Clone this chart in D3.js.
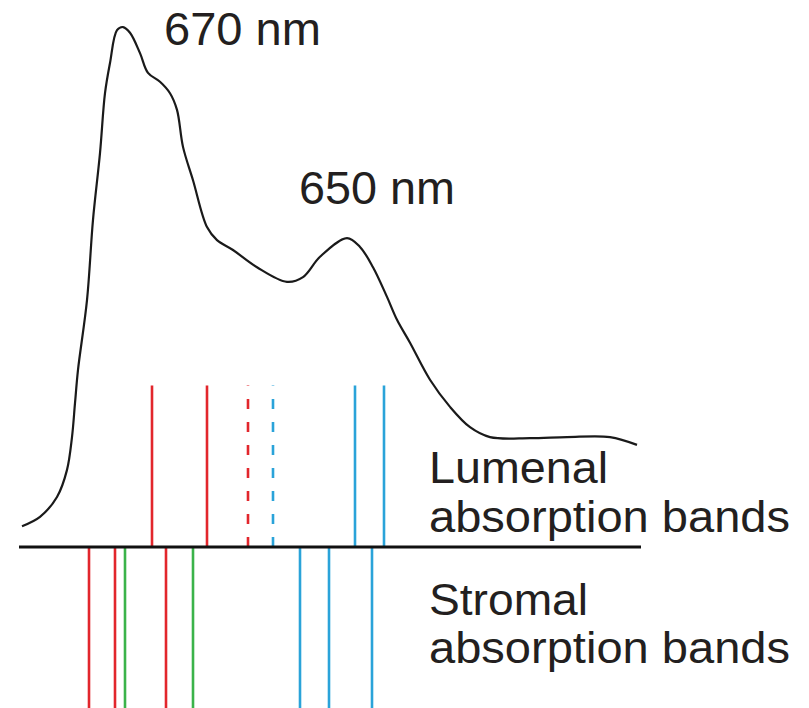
<!DOCTYPE html>
<meta charset="utf-8">
<style>
  body { margin: 0; background: #fff; }
  .curve { fill: none; stroke: #1a1a1a; stroke-width: 2.2px; }
  .label { font-family: "Liberation Sans", Arial, sans-serif; fill: #231f20; }
</style>
<body>
<script src="https://d3js.org/d3.v7.min.js"></script>
<script>
  // absorption spectrum (position, relative absorbance)
  var specX = [2, 20, 37, 47, 52, 55, 58, 67, 73, 80, 85, 90, 97, 103, 110, 120, 128, 140, 150, 157,
    163, 173, 187, 197, 213, 237, 267, 283, 300, 327, 340, 353, 367, 377, 390, 410, 430, 450, 470, 510,
    547, 590, 617];
  var specY = [0.040, 0.058, 0.096, 0.148, 0.211, 0.276, 0.340, 0.474, 0.628, 0.756, 0.871, 0.929, 0.992, 0.998,
    0.987, 0.948, 0.910, 0.893, 0.871, 0.839, 0.768, 0.704, 0.614, 0.589, 0.570, 0.537, 0.509, 0.518, 0.557,
    0.593, 0.576, 0.537, 0.480, 0.436, 0.392, 0.321, 0.269, 0.230, 0.211, 0.209, 0.211, 0.211, 0.196];

  // lumenal bands (above the line)
  var lumenalX = [132, 187, 228, 253, 335, 364];
  var lumenalColor = ["red", "red", "red", "blue", "blue", "blue"];
  var lumenalDashed = [false, false, true, true, false, false];

  // stromal bands (below the line)
  var stromalX = [69, 95, 105, 146, 173, 280, 309, 352];
  var stromalColor = ["red", "red", "green", "red", "green", "blue", "blue", "blue"];

  var bandHeight = 0.31;

  var colors = { red: "#e2262c", green: "#3bb34a", blue: "#2aa3d9" };

  var width = 809, height = 708;

  var x = d3.scaleLinear().domain([0, 620]).range([20, 640]);
  var y = d3.scaleLinear().domain([0, 1]).range([547, 26]);

  var svg = d3.select("body").append("svg")
    .attr("width", width)
    .attr("height", height);

  var spectrum = specX.map(function (d, i) { return [d, specY[i]]; });

  var line = d3.line()
    .x(function (d) { return x(d[0]); })
    .y(function (d) { return y(d[1]); })
    .curve(d3.curveCatmullRom.alpha(0.5));

  svg.append("path")
    .datum(spectrum)
    .attr("class", "curve")
    .attr("d", line);

  // lumenal bands
  svg.selectAll(".lumenal")
    .data(lumenalX)
    .enter().append("line")
    .attr("class", "lumenal")
    .attr("x1", function (d) { return x(d); })
    .attr("x2", function (d) { return x(d); })
    .attr("y1", y(0))
    .attr("y2", y(bandHeight))
    .attr("stroke", function (d, i) { return colors[lumenalColor[i]]; })
    .attr("stroke-width", 2.6)
    .attr("stroke-dasharray", function (d, i) { return lumenalDashed[i] ? "10,13" : null; });

  // stromal bands
  svg.selectAll(".stromal")
    .data(stromalX)
    .enter().append("line")
    .attr("class", "stromal")
    .attr("x1", function (d) { return x(d); })
    .attr("x2", function (d) { return x(d); })
    .attr("y1", y(0))
    .attr("y2", y(-bandHeight))
    .attr("stroke", function (d, i) { return colors[stromalColor[i]]; })
    .attr("stroke-width", 2.6);

  // the membrane line
  svg.append("line")
    .attr("x1", x(-1)).attr("x2", x(621))
    .attr("y1", y(0)).attr("y2", y(0))
    .attr("stroke", "#111")
    .attr("stroke-width", 3);

  // labels
  var labels = [
    { t: "670 nm", x: 164, y: 45, s: 46, w: 157 },
    { t: "650 nm", x: 299, y: 204, s: 46, w: 156 },
    { t: "Lumenal", x: 429, y: 483, s: 44, w: 179 },
    { t: "absorption bands", x: 429, y: 532, s: 44, w: 361 },
    { t: "Stromal", x: 429, y: 615, s: 44, w: 159 },
    { t: "absorption bands", x: 429, y: 663, s: 44, w: 361 }
  ];

  svg.selectAll(".label")
    .data(labels)
    .enter().append("text")
    .attr("class", "label")
    .attr("x", function (d) { return d.x; })
    .attr("y", function (d) { return d.y; })
    .attr("font-size", function (d) { return d.s; })
    .attr("textLength", function (d) { return d.w; })
    .attr("lengthAdjust", "spacingAndGlyphs")
    .text(function (d) { return d.t; });
</script>
</body>
